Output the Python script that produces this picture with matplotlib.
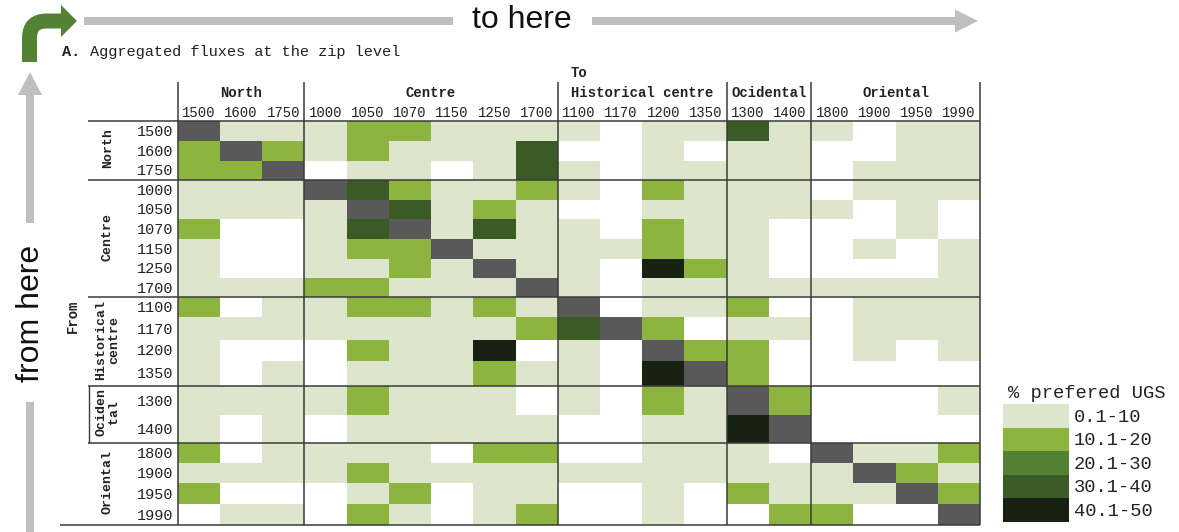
import matplotlib

matplotlib.use("Agg")
import matplotlib.pyplot as plt
import numpy as np
from matplotlib.colors import BoundaryNorm, ListedColormap
from matplotlib.patches import FancyArrow, PathPatch, Polygon, Rectangle
from matplotlib.path import Path

# zones and zip codes (same order on both axes)
COL_ZONES = ["North", "Centre", "Historical centre", "Ocidental", "Oriental"]
ROW_ZONES = ["North", "Centre", "Historical\ncentre", "Ociden\ntal", "Oriental"]
ZONE_SIZES = [3, 6, 4, 2, 4]
ZIP_CODES = [
    "1500", "1600", "1750",
    "1000", "1050", "1070", "1150", "1250", "1700",
    "1100", "1170", "1200", "1350",
    "1300", "1400",
    "1800", "1900", "1950", "1990",
]

# flux class per cell: 0 = none, 1..5 = legend classes, -1 = same zip
FLUX_CLASS = [
    [-1, 1, 1, 1, 2, 2, 1, 1, 1, 1, 0, 1, 1, 4, 1, 1, 0, 1, 1],
    [2, -1, 2, 1, 2, 1, 1, 1, 4, 0, 0, 1, 0, 1, 1, 0, 0, 1, 1],
    [2, 2, -1, 0, 1, 1, 0, 1, 4, 1, 0, 1, 1, 1, 1, 0, 1, 1, 1],
    [1, 1, 1, -1, 4, 2, 1, 1, 2, 1, 0, 2, 1, 1, 1, 0, 1, 1, 1],
    [1, 1, 1, 1, -1, 4, 1, 2, 1, 0, 0, 1, 1, 1, 1, 1, 0, 1, 0],
    [2, 0, 0, 1, 4, -1, 1, 4, 1, 1, 0, 2, 1, 1, 0, 0, 0, 1, 0],
    [1, 0, 0, 1, 2, 2, -1, 1, 1, 1, 1, 2, 1, 1, 0, 0, 1, 0, 1],
    [1, 0, 0, 1, 1, 2, 1, -1, 1, 1, 0, 5, 2, 1, 0, 0, 0, 0, 1],
    [1, 1, 1, 2, 2, 1, 1, 1, -1, 1, 0, 1, 1, 1, 1, 1, 1, 1, 1],
    [2, 0, 1, 1, 2, 2, 1, 2, 1, -1, 0, 1, 1, 2, 0, 0, 1, 1, 1],
    [1, 1, 1, 1, 1, 1, 1, 1, 2, 4, -1, 2, 0, 1, 1, 0, 1, 1, 1],
    [1, 0, 0, 0, 2, 1, 1, 5, 0, 1, 0, -1, 2, 2, 0, 0, 1, 0, 1],
    [1, 0, 1, 0, 1, 1, 1, 2, 1, 1, 0, 5, -1, 2, 0, 0, 0, 0, 0],
    [1, 1, 1, 1, 2, 1, 1, 1, 0, 1, 0, 2, 1, -1, 2, 0, 0, 0, 1],
    [1, 0, 1, 0, 1, 1, 1, 1, 1, 0, 0, 1, 1, 5, -1, 0, 0, 0, 0],
    [2, 0, 1, 1, 1, 1, 0, 2, 2, 0, 0, 1, 1, 1, 0, -1, 1, 1, 2],
    [1, 1, 1, 1, 2, 1, 1, 1, 1, 1, 1, 1, 1, 1, 1, 1, -1, 2, 1],
    [2, 0, 0, 0, 1, 2, 0, 1, 1, 0, 0, 1, 0, 2, 1, 1, 1, -1, 2],
    [0, 1, 1, 0, 2, 1, 0, 1, 2, 0, 0, 1, 0, 0, 2, 2, 0, 0, -1],
]

LEGEND_TITLE = "% prefered UGS"
LEGEND_LABELS = ["0.1-10", "10.1-20", "20.1-30", "30.1-40", "40.1-50"]
CLASS_COLORS = ["#dde6cd", "#8db43e", "#548235", "#3a5a26", "#182212"]
SELF_COLOR = "#595959"
NONE_COLOR = "#ffffff"

# layout in pixel units of the 1179x532 canvas
W, H = 1179, 532
GRID_LEFT, GRID_RIGHT = 177.7, 980.0
ROW_EDGES = [121, 141, 160.5, 180, 199.5, 219.3, 239, 258.5, 278.3, 297.3,
             317.3, 340, 360.7, 386, 415, 442.7, 462.7, 483.3, 504, 525]
MONO = "Liberation Mono"
SANS = "Liberation Sans"
INK = "#222222"
LINE = "#3a3a3a"
ARROW_GREY = "#bfbfbf"
ARROW_GREEN = "#548235"


def draw_matrix(ax):
    col_edges = np.linspace(GRID_LEFT, GRID_RIGHT, len(ZIP_CODES) + 1)
    row_edges = np.array(ROW_EDGES)
    cmap = ListedColormap([SELF_COLOR, NONE_COLOR] + CLASS_COLORS)
    norm = BoundaryNorm(np.arange(-1.5, 6.5, 1.0), cmap.N)
    ax.pcolormesh(col_edges, row_edges, np.array(FLUX_CLASS), cmap=cmap, norm=norm,
                  edgecolors="none", antialiased=False)

    col_mid = (col_edges[:-1] + col_edges[1:]) / 2
    row_mid = (row_edges[:-1] + row_edges[1:]) / 2
    for x, code in zip(col_mid, ZIP_CODES):
        ax.text(x, 112.7, code, ha="center", va="center", fontsize=10, family=MONO, color=INK)
    for y, code in zip(row_mid, ZIP_CODES):
        ax.text(173, y + 1, code, ha="right", va="center", fontsize=11, family=MONO, color=INK)

    bounds = np.concatenate([[0], np.cumsum(ZONE_SIZES)])
    for i, (cz, rz) in enumerate(zip(COL_ZONES, ROW_ZONES)):
        x0, x1 = col_edges[bounds[i]], col_edges[bounds[i + 1]]
        ax.text((x0 + x1) / 2, 92.7, cz, ha="center", va="center", fontsize=10,
                family=MONO, weight="bold", color=INK)
        y0, y1 = row_edges[bounds[i]], row_edges[bounds[i + 1]]
        ax.text(107.7, (y0 + y1) / 2 - 2, rz, ha="center", va="center", rotation=90,
                fontsize=9.5, family=MONO, weight="bold", color=INK,
                multialignment="center", linespacing=1.15)

    # table rules
    ax.hlines([row_edges[b] for b in bounds[:-1]], 88, GRID_RIGHT, color=LINE, lw=1.1)
    ax.hlines(row_edges[-1], 60, GRID_RIGHT, color=LINE, lw=1.1)
    ax.vlines([col_edges[b] for b in bounds], 82, row_edges[-1], color=LINE, lw=1.1)
    ax.vlines(89, row_edges[bounds[3]], row_edges[bounds[4]], color=LINE, lw=1.0)

    ax.text(579, 72.7, "To", ha="center", va="center", fontsize=10, family=MONO,
            weight="bold", color=INK)
    ax.text(73, 316, "From", ha="center", va="center", rotation=90, fontsize=10,
            family=MONO, weight="bold", color=INK)


def draw_legend(ax):
    ax.text(1008, 393, LEGEND_TITLE, ha="left", va="center", fontsize=13.5, family=MONO, color=INK)
    box_h = 23.5
    for i, (label, color) in enumerate(zip(LEGEND_LABELS, CLASS_COLORS)):
        y = 404.3 + i * box_h
        ax.add_patch(Rectangle((1002.7, y), 66.6, box_h, facecolor=color, edgecolor="none"))
        ax.text(1074, y + box_h / 2 + 1, label, ha="left", va="center", fontsize=13.5,
                family=MONO, color=INK)


def draw_arrows(ax):
    # "to here" arrow along the top
    ax.add_patch(Rectangle((84, 17), 369, 8, facecolor=ARROW_GREY, edgecolor="none"))
    ax.add_patch(FancyArrow(592, 21, 386, 0, width=8, head_width=23, head_length=23,
                            length_includes_head=True, facecolor=ARROW_GREY, edgecolor="none"))
    ax.text(522, 20, "to here", ha="center", va="center", fontsize=23, family=SANS, color="#111")

    # "from here" arrow along the left
    ax.add_patch(Rectangle((26, 402), 8, 140, facecolor=ARROW_GREY, edgecolor="none"))
    ax.add_patch(FancyArrow(30, 223, 0, -151, width=8, head_width=24, head_length=23,
                            length_includes_head=True, facecolor=ARROW_GREY, edgecolor="none"))
    ax.text(31, 313, "from here", ha="center", va="center", rotation=90, fontsize=23,
            family=SANS, color="#111")

    # green bent arrow in the corner
    bend = Path([(29.5, 62), (29.5, 38), (29.5, 21), (46.5, 21), (62, 21)],
                [Path.MOVETO, Path.LINETO, Path.CURVE3, Path.CURVE3, Path.LINETO])
    ax.add_patch(PathPatch(bend, facecolor="none", edgecolor=ARROW_GREEN, lw=10.8, capstyle="butt"))
    ax.add_patch(Polygon([(61, 5), (77, 21), (61, 37)], closed=True, facecolor=ARROW_GREEN,
                         edgecolor="none"))


def main() -> None:
    fig = plt.figure(figsize=(W / 100, H / 100), dpi=100)
    ax = fig.add_axes([0, 0, 1, 1])
    ax.set_xlim(0, W)
    ax.set_ylim(H, 0)
    ax.axis("off")

    title_size = 11
    ax.text(62, 52, "A.", ha="left", va="center", fontsize=title_size, family=MONO,
            weight="bold", color=INK)
    ax.text(62 + 3 * 0.6 * title_size * 100 / 72, 52, "Aggregated fluxes at the zip level",
            ha="left", va="center", fontsize=title_size, family=MONO, color=INK)

    draw_matrix(ax)
    draw_legend(ax)
    draw_arrows(ax)

    fig.savefig("out.png", dpi=100)
    plt.close(fig)


if __name__ == "__main__":
    main()
